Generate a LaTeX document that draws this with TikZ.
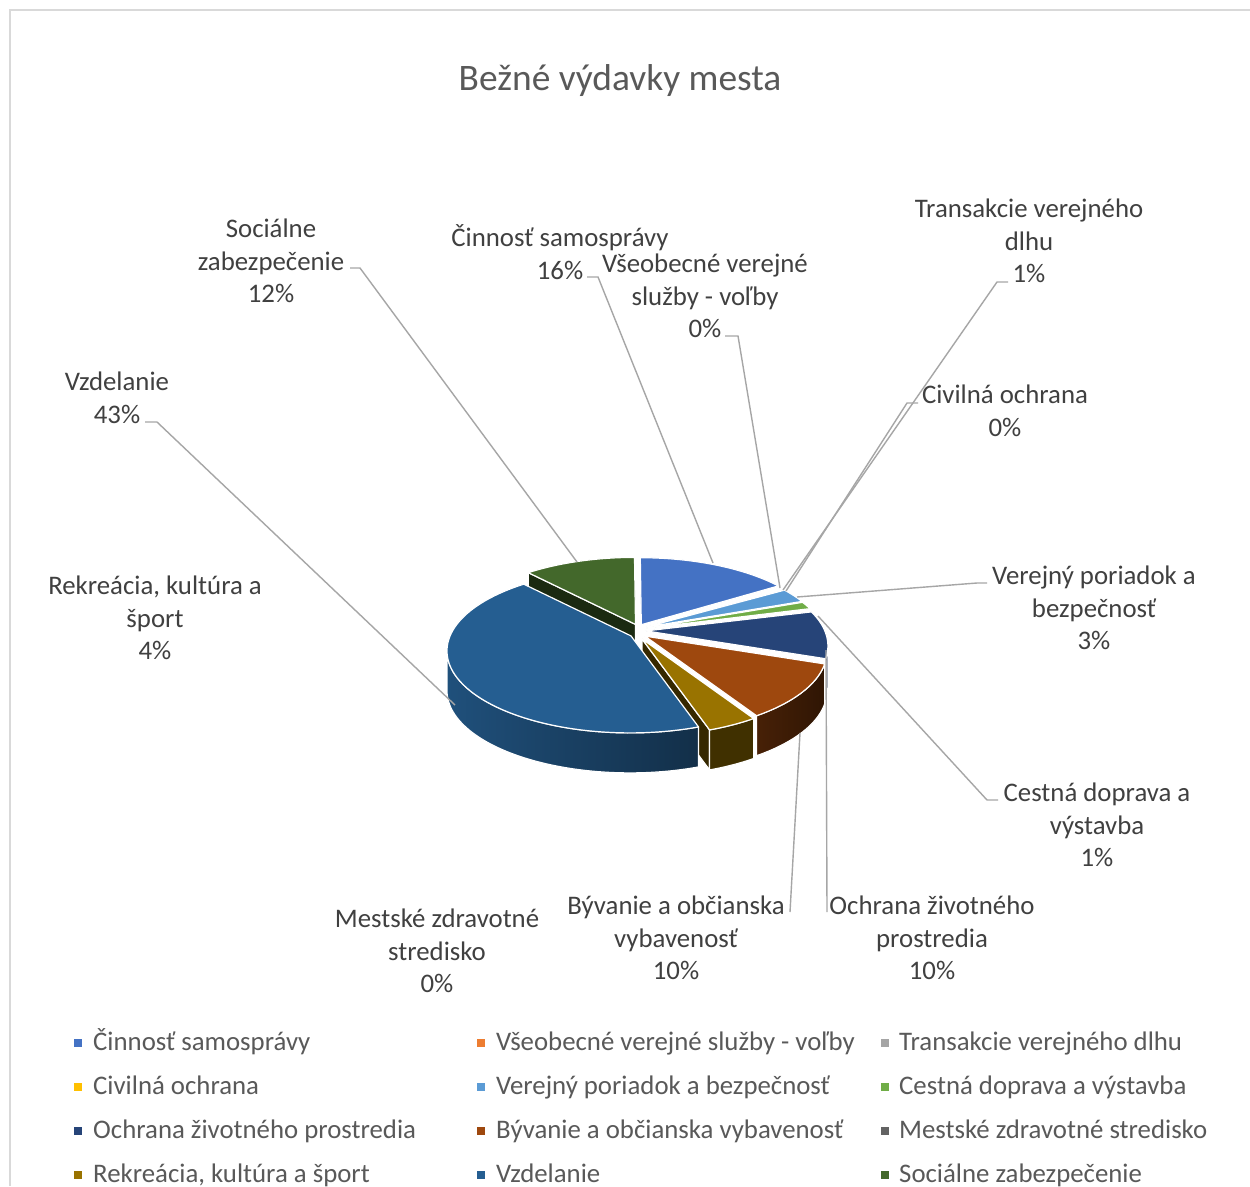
\documentclass[tikz,border=0pt]{standalone}
\usepackage{fontspec}
\setmainfont{Carlito}
\definecolor{cSoc}{HTML}{43682B}
\definecolor{cCin}{HTML}{4472C4}
\definecolor{cTra}{HTML}{A5A5A5}
\definecolor{cVer}{HTML}{5B9BD5}
\definecolor{cCes}{HTML}{70AD47}
\definecolor{cOch}{HTML}{264478}
\definecolor{cByv}{HTML}{9E480E}
\definecolor{cRek}{HTML}{997300}
\definecolor{cVzd}{HTML}{255E91}
\definecolor{cVse}{HTML}{ED7D31}
\definecolor{cCiv}{HTML}{FFC000}
\definecolor{cMes}{HTML}{636363}
\definecolor{txtc}{HTML}{404040}
\definecolor{legc}{HTML}{595959}
\definecolor{leadc}{HTML}{A6A6A6}
\definecolor{framec}{HTML}{D9D9D9}
\begin{document}
\begin{tikzpicture}[x=1pt,y=-1pt,
  declare function={ex(\t)=637+183*cos(\t); ey(\t)=647-82*sin(\t);},
  topface/.style={draw=white,line width=1.2pt,line join=round},
  sideface/.style={draw=white,line width=1.2pt,line join=round},
  lbl/.style={align=center,text=txtc,font=\fontsize{26.8}{32.5}\selectfont,inner sep=0pt},
  leader/.style={draw=leadc,line width=1.4pt},
  legmark/.style={minimum size=8pt,inner sep=0pt},
  legtext/.style={anchor=west,text=legc,font=\fontsize{26.8}{32}\selectfont,inner sep=0pt,text height=16pt,text depth=3pt}]
\useasboundingbox (0,0) rectangle (1250,1186);
\fill[white] (0,0) rectangle (1250,1186);
\draw[framec,line width=1.5pt] (10,1186) -- (10,10) -- (1250,10);
\node[text=legc,font=\fontsize{37.4}{44}\selectfont,inner sep=0pt] (title) at (620,81) {Bežné výdavky mesta};

% ---------- pie ----------
% Socialne
\begin{scope}[shift={(-2.5,-7.6)}]
\filldraw[sideface,fill=cSoc!40!black] (638,632) -- ({ex(125.5)},{ey(125.5)}) -- ({ex(125.5)},{ey(125.5)+40}) -- (638,672) -- cycle;
\filldraw[topface,fill=cSoc] (638,632) -- plot[domain=125.5:90,samples=30] ({ex(\x)},{ey(\x)}) -- cycle;
\end{scope}
% Cinnost
\begin{scope}[shift={(3.3,-7.3)}]
\filldraw[topface,fill=cCin] (638,632) -- plot[domain=90:41,samples=40] ({ex(\x)},{ey(\x)}) -- cycle;
\end{scope}
% Transakcie
\begin{scope}[shift={(6.1,-5.2)}]
\filldraw[topface,fill=cTra!40!white] (638,632) -- plot[domain=40.8:39.9,samples=4] ({ex(\x)},{ey(\x)}) -- cycle;
\end{scope}
% Verejny poriadok
\begin{scope}[shift={(6.5,-4.6)}]
\filldraw[topface,fill=cVer] (638,632) -- plot[domain=39.6:30,samples=12] ({ex(\x)},{ey(\x)}) -- cycle;
\end{scope}
% Cestna doprava
\begin{scope}[shift={(7.1,-3.7)}]
\filldraw[topface,fill=cCes] (638,632) -- plot[domain=30:25,samples=8] ({ex(\x)},{ey(\x)}) -- cycle;
\end{scope}
% Ochrana zivotneho prostredia
\begin{scope}[shift={(7.9,-1.1)}]
\filldraw[sideface,fill=cOch!55!black] plot[domain=0:-9,samples=8] ({ex(\x)},{ey(\x)}) -- plot[domain=-9:0,samples=8] ({ex(\x)},{ey(\x)+40}) -- cycle;
\filldraw[topface,fill=cOch] (638,632) -- plot[domain=24.5:-9,samples=30] ({ex(\x)},{ey(\x)}) -- cycle;
\end{scope}
% Byvanie
\begin{scope}[shift={(6.9,4.1)}]
\shadedraw[sideface,left color=cByv!45!black,right color=cByv!30!black] plot[domain=-9:-52,samples=30] ({ex(\x)},{ey(\x)}) -- plot[domain=-52:-9,samples=30] ({ex(\x)},{ey(\x)+40}) -- cycle;
\filldraw[topface,fill=cByv] (638,632) -- plot[domain=-9:-52,samples=30] ({ex(\x)},{ey(\x)}) -- cycle;
\end{scope}
% Rekreacia
\begin{scope}[shift={(4,6.9)}]
\filldraw[sideface,fill=cRek!35!black] (638,632) -- ({ex(-68)},{ey(-68)}) -- ({ex(-68)},{ey(-68)+40}) -- (638,672) -- cycle;
\filldraw[sideface,fill=cRek!42!black] plot[domain=-52:-68,samples=12] ({ex(\x)},{ey(\x)}) -- plot[domain=-68:-52,samples=12] ({ex(\x)},{ey(\x)+40}) -- cycle;
\filldraw[topface,fill=cRek] (638,632) -- plot[domain=-52:-68,samples=12] ({ex(\x)},{ey(\x)}) -- cycle;
\end{scope}
% Vzdelanie
\begin{scope}[shift={(-7,3.9)}]
\shadedraw[sideface,left color=cVzd!85!black,right color=cVzd!50!black] plot[domain=-68:-180,samples=60] ({ex(\x)},{ey(\x)}) -- plot[domain=-180:-68,samples=60] ({ex(\x)},{ey(\x)+40}) -- cycle;
\filldraw[topface,fill=cVzd] (638,632) -- plot[domain=-68:-234.5,samples=80] ({ex(\x)},{ey(\x)}) -- cycle;
\end{scope}

% ---------- labels ----------
\node[lbl] (lSoc) at (271,261) {Sociálne\\zabezpečenie\\12\%};
\node[lbl] (lCin) at (560,252) {Činnosť samosprávy\\16\%};
\node[lbl] (lVse) at (705,296) {Všeobecné verejné\\služby - voľby\\0\%};
\node[lbl] (lTra) at (1029,241) {Transakcie verejného\\dlhu\\1\%};
\node[lbl] (lCiv) at (1005,411) {Civilná ochrana\\0\%};
\node[lbl] (lVzd) at (117,398) {Vzdelanie\\43\%};
\node[lbl] (lRek) at (155,618) {Rekreácia, kultúra a\\šport\\4\%};
\node[lbl] (lVer) at (1094,608) {Verejný poriadok a\\bezpečnosť\\3\%};
\node[lbl] (lCes) at (1097,825) {Cestná doprava a\\výstavba\\1\%};
\node[lbl] (lOch) at (932,938) {Ochrana životného\\prostredia\\10\%};
\node[lbl] (lByv) at (676,938) {Bývanie a občianska\\vybavenosť\\10\%};
\node[lbl] (lMes) at (437,951) {Mestské zdravotné\\stredisko\\0\%};

% ---------- leader lines ----------
\coordinate (sa) at (350,268); \coordinate (sb) at (360,268); \coordinate (sc) at (577,562);
\coordinate (ca) at (587,277); \coordinate (cb) at (598,277); \coordinate (cc) at (713,563);
\coordinate (va) at (725,336); \coordinate (vb) at (738,336); \coordinate (vc) at (780,588);
\coordinate (ta) at (1008,282); \coordinate (tb) at (997,282); \coordinate (tc) at (783,590);
\coordinate (ia) at (918,403); \coordinate (ib) at (907,403); \coordinate (ic) at (786,591);
\coordinate (ra) at (987,583); \coordinate (rb) at (977,583); \coordinate (rc) at (797,597);
\coordinate (ea) at (998,800); \coordinate (eb) at (987,800); \coordinate (ec) at (818,616);
\coordinate (oa) at (827,912); \coordinate (oc) at (826,650);
\coordinate (ba) at (790,912); \coordinate (bc) at (800,733);
\coordinate (za) at (145,422); \coordinate (zb) at (157,422); \coordinate (zc) at (455,705);
\draw[leader] (sa) -- (sb) -- (sc);
\draw[leader] (ca) -- (cb) -- (cc);
\draw[leader] (va) -- (vb) -- (vc);
\draw[leader] (ta) -- (tb) -- (tc);
\draw[leader] (ia) -- (ib) -- (ic);
\draw[leader] (ra) -- (rb) -- (rc);
\draw[leader] (ea) -- (eb) -- (ec);
\draw[leader] (oa) -- (oc);
\draw[leader] (ba) -- (bc);
\draw[leader] (za) -- (zb) -- (zc);

% ---------- legend ----------
\node[legmark,fill=cCin] (m1) at (78,1043) {};
\node[legtext] (t1) at (93,1044) {Činnosť samosprávy};
\node[legmark,fill=cVse] (m2) at (481,1043) {};
\node[legtext] (t2) at (496,1044) {Všeobecné verejné služby - voľby};
\node[legmark,fill=cTra] (m3) at (885,1043) {};
\node[legtext] (t3) at (899,1044) {Transakcie verejného dlhu};
\node[legmark,fill=cCiv] (m4) at (78,1087) {};
\node[legtext] (t4) at (93,1088) {Civilná ochrana};
\node[legmark,fill=cVer] (m5) at (481,1087) {};
\node[legtext] (t5) at (496,1088) {Verejný poriadok a bezpečnosť};
\node[legmark,fill=cCes] (m6) at (885,1087) {};
\node[legtext] (t6) at (899,1088) {Cestná doprava a výstavba};
\node[legmark,fill=cOch] (m7) at (78,1131) {};
\node[legtext] (t7) at (93,1132) {Ochrana životného prostredia};
\node[legmark,fill=cByv] (m8) at (481,1131) {};
\node[legtext] (t8) at (496,1132) {Bývanie a občianska vybavenosť};
\node[legmark,fill=cMes] (m9) at (885,1131) {};
\node[legtext] (t9) at (899,1132) {Mestské zdravotné stredisko};
\node[legmark,fill=cRek] (m10) at (78,1175) {};
\node[legtext] (t10) at (93,1176) {Rekreácia, kultúra a šport};
\node[legmark,fill=cVzd] (m11) at (481,1175) {};
\node[legtext] (t11) at (496,1176) {Vzdelanie};
\node[legmark,fill=cSoc] (m12) at (885,1175) {};
\node[legtext] (t12) at (899,1176) {Sociálne zabezpečenie};
\end{tikzpicture}
\end{document}
